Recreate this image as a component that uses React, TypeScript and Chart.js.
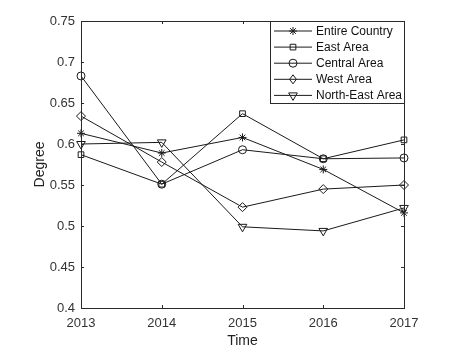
import React, { useEffect, useRef } from "react";
import { Chart, registerables } from "chart.js";

Chart.register(...registerables);

const years = ["2013", "2014", "2015", "2016", "2017"];
const entireCountry = [0.613, 0.589, 0.608, 0.569, 0.516];
const eastArea = [0.587, 0.551, 0.637, 0.582, 0.605];
const centralArea = [0.683, 0.551, 0.593, 0.582, 0.583];
const westArea = [0.634, 0.578, 0.523, 0.545, 0.55];
const northEastArea = [0.6, 0.602, 0.499, 0.494, 0.522];
const seriesNames = ["Entire Country", "East Area", "Central Area", "West Area", "North-East Area"];
const yTicks = [0.4, 0.45, 0.5, 0.55, 0.6, 0.65, 0.7, 0.75];

const FONT = "'Liberation Sans', Arial, sans-serif";
const AX = "#2a2a2a";
const LINE = "#1a1a1a";

type Mk = { style: string; rot: number; r: number };
const markers: Mk[] = [
  { style: "star", rot: 0, r: 4 },
  { style: "rect", rot: 0, r: 4 },
  { style: "circle", rot: 0, r: 4 },
  { style: "rectRot", rot: 0, r: 4.5 },
  { style: "triangle", rot: 180, r: 5 },
];

function drawMarker(ctx: CanvasRenderingContext2D, m: Mk, x: number, y: number) {
  const r = m.r;
  ctx.beginPath();
  if (m.style === "star") {
    ctx.moveTo(x - r, y); ctx.lineTo(x + r, y);
    ctx.moveTo(x, y - r); ctx.lineTo(x, y + r);
    const d = r * Math.SQRT1_2;
    ctx.moveTo(x - d, y - d); ctx.lineTo(x + d, y + d);
    ctx.moveTo(x - d, y + d); ctx.lineTo(x + d, y - d);
  } else if (m.style === "rect") {
    const s = r * Math.SQRT1_2;
    ctx.rect(x - s, y - s, 2 * s, 2 * s);
  } else if (m.style === "circle") {
    ctx.arc(x, y, r, 0, Math.PI * 2);
  } else if (m.style === "rectRot") {
    ctx.moveTo(x, y - r); ctx.lineTo(x + r * 0.75, y); ctx.lineTo(x, y + r); ctx.lineTo(x - r * 0.75, y); ctx.closePath();
  } else if (m.style === "triangle") {
    const rad0 = (m.rot * Math.PI) / 180;
    for (let i = 0; i < 3; i++) {
      const a = rad0 + (i * 2 * Math.PI) / 3;
      const px = x + Math.sin(a) * r;
      const py = y - Math.cos(a) * r;
      if (i === 0) ctx.moveTo(px, py); else ctx.lineTo(px, py);
    }
    ctx.closePath();
  }
  ctx.stroke();
}

const boxPlugin = {
  id: "matlabBox",
  afterDraw(chart: any) {
    const ctx = chart.ctx as CanvasRenderingContext2D;
    const { left, right, top, bottom } = chart.chartArea;
    ctx.save();
    ctx.strokeStyle = AX;
    ctx.lineWidth = 1;
    ctx.strokeRect(Math.round(left) + 0.5, Math.round(top) + 0.5, Math.round(right - left), Math.round(bottom - top));
    const xs = chart.scales.x;
    const ys = chart.scales.y;
    const tl = 3;
    ctx.beginPath();
    xs.ticks.forEach((_t: any, i: number) => {
      const px = Math.round(xs.getPixelForTick(i)) + 0.5;
      ctx.moveTo(px, bottom); ctx.lineTo(px, bottom - tl);
      ctx.moveTo(px, top); ctx.lineTo(px, top + tl);
    });
    ys.ticks.forEach((_t: any, i: number) => {
      const py = Math.round(ys.getPixelForTick(i)) + 0.5;
      ctx.moveTo(left, py); ctx.lineTo(left + tl, py);
      ctx.moveTo(right, py); ctx.lineTo(right - tl, py);
    });
    ctx.stroke();

    // legend
    const lx = 270, ly = 21, lw = 134, lh = 82;
    ctx.fillStyle = "#ffffff";
    ctx.fillRect(lx, ly, lw, lh);
    ctx.strokeRect(lx + 0.5, ly + 0.5, lw, lh);
    ctx.font = `12px ${FONT}`;
    ctx.textBaseline = "middle";
    ctx.textAlign = "left";
    seriesNames.forEach((name, i) => {
      const cy = 31 + i * 16.1;
      ctx.strokeStyle = LINE;
      ctx.lineWidth = 1;
      ctx.beginPath();
      ctx.moveTo(274, cy); ctx.lineTo(312, cy);
      ctx.stroke();
      drawMarker(ctx, markers[i], 293, cy);
      ctx.fillStyle = "#111";
      ctx.fillText(name, 316, cy + 0.5);
    });
    ctx.restore();
  },
};

export default function App() {
  const ref = useRef<HTMLCanvasElement | null>(null);
  useEffect(() => {
    document.body.style.margin = "0";
    const all = [entireCountry, eastArea, centralArea, westArea, northEastArea];
    const chart = new Chart(ref.current as HTMLCanvasElement, {
      type: "line",
      data: {
        labels: years,
        datasets: all.map((d, i) => ({
          label: seriesNames[i],
          data: d,
          borderColor: LINE,
          borderWidth: 1,
          pointStyle: markers[i].style as any,
          pointRotation: markers[i].rot,
          pointRadius: markers[i].r,
          pointBorderColor: LINE,
          pointBorderWidth: 1,
          pointBackgroundColor: "rgba(0,0,0,0)",
          tension: 0,
          fill: false,
          clip: false as any,
        })),
      },
      options: {
        animation: false,
        responsive: false,
        events: [],
        layout: { padding: { left: 0, top: 21, right: 67, bottom: 0 } },
        plugins: { legend: { display: false }, tooltip: { enabled: false } },
        scales: {
          x: {
            type: "category",
            offset: false,
            grid: { display: false, drawTicks: false },
            border: { display: false },
            ticks: { color: "#333", font: { family: FONT, size: 13 }, padding: 8, maxRotation: 0, autoSkip: false },
            title: { display: true, text: "Time", color: "#222", font: { family: FONT, size: 14 }, padding: { top: 0, bottom: 9 } },
            afterFit: (s: any) => { s.height = 51; },
          },
          y: {
            type: "linear",
            min: 0.4,
            max: 0.75,
            afterBuildTicks: (s: any) => { s.ticks = yTicks.map((v) => ({ value: v })); },
            grid: { display: false, drawTicks: false },
            border: { display: false },
            ticks: {
              color: "#333",
              font: { family: FONT, size: 13 },
              padding: 6,
              callback: (v: any) => String(+Number(v).toFixed(2)),
            },
            title: { display: true, text: "Degree", color: "#222", font: { family: FONT, size: 14 }, padding: { top: 32, bottom: 0 } },
            afterFit: (s: any) => { s.width = 81; },
          },
        },
      },
      plugins: [boxPlugin],
    });
    return () => chart.destroy();
  }, []);
  return <canvas ref={ref} width={471} height={359} style={{ display: "block" }} />;
}
